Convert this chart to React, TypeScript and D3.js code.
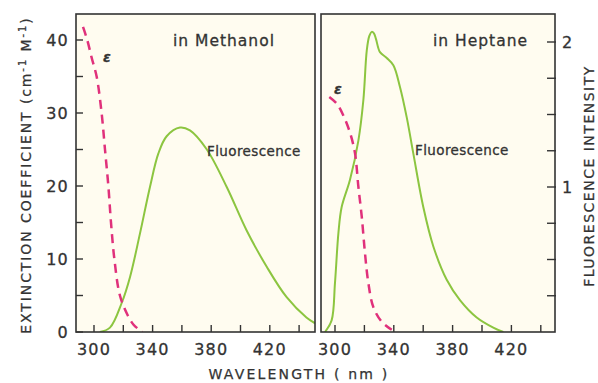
import React from "react";
import * as d3 from "d3";

// Methanol panel
const methEpsNm = [292.5, 295.4, 298.5, 301.8, 305.2, 307.5, 309.8, 311.6, 313.9, 317.7, 323, 327, 331, 333];
const methEpsVal = [41.8, 40, 37.5, 35, 30, 25, 20, 15, 10, 5, 2.3, 1.0, 0.3, 0];
const methFlNm = [304, 310.9, 318.9, 324.6, 331.4, 338.2, 343.9, 349.6, 358.7, 365.5, 376.9, 390.6, 404.2, 417.9, 431.5, 445, 450.9];
const methFlVal = [0, 0.03, 0.2, 0.38, 0.68, 1.0, 1.23, 1.35, 1.41, 1.39, 1.26, 1.0, 0.7, 0.45, 0.24, 0.1, 0.06];

// Heptane panel
const hepEpsNm = [296.1, 301.1, 305.6, 310.2, 313.6, 315.9, 318.2, 320.4, 322.7, 326.1, 331.8, 338.6];
const hepEpsVal = [32.2, 31.3, 29.7, 27.3, 24.5, 19.9, 15.8, 10.8, 6.7, 3.4, 1.4, 0.3];
const hepFlNm = [293.2, 297.7, 300, 302.3, 304.5, 310.2, 315.9, 319.3, 321.6, 323.3, 325, 326.5, 327.9, 330.6, 335.2, 339.7, 344.2, 348.8, 353.3, 360.1, 366.9, 376, 385, 396.4, 407.7, 414.5];
const hepFlVal = [0, 0.08, 0.34, 0.68, 0.86, 1.05, 1.32, 1.6, 1.94, 2.04, 2.07, 2.06, 2.02, 1.93, 1.89, 1.84, 1.69, 1.48, 1.23, 0.86, 0.59, 0.36, 0.22, 0.1, 0.03, 0];

const xTicks = [300, 320, 340, 360, 380, 400, 420, 440];
const xTickLabels = [300, 340, 380, 420];
const epsTicks = [0, 5, 10, 15, 20, 25, 30, 35, 40];
const epsTickLabels = [0, 10, 20, 30, 40];
const flTicks = [0.25, 0.5, 0.75, 1, 1.25, 1.5, 1.75, 2];
const flTickLabels = [1, 2];

const GREEN = "#8cc540";
const MAGENTA = "#e0317b";
const INK = "#333333";
const BG = "#fffcf0";
const FONT = "'DejaVu Sans', sans-serif";

export default function App() {
  const top = 14;
  const bottom = 332;
  const xL = d3.scaleLinear().domain([300, 440]).range([94, 299.1]);
  const xR = d3.scaleLinear().domain([300, 440]).range([335, 540.8]);
  const yEps = d3.scaleLinear().domain([0, 40]).range([332, 40]);
  const yFl = d3.scaleLinear().domain([0, 2]).range([332, 42]);
  const leftFrame = [76, 315];
  const rightFrame = [321, 555];

  const mk = (xs: d3.ScaleLinear<number, number>, ys: d3.ScaleLinear<number, number>, nm: number[], v: number[]) =>
    d3
      .line<number>()
      .x((_, i) => xs(nm[i]))
      .y((_, i) => ys(v[i]))
      .curve(d3.curveCatmullRom.alpha(0.5))(v.map((d) => d)) || "";

  const panel = (x0: number, x1: number, id: string) => (
    <g>
      <defs>
        <clipPath id={id}>
          <rect x={x0} y={top} width={x1 - x0} height={bottom - top} />
        </clipPath>
      </defs>
      <rect x={x0} y={top} width={x1 - x0} height={bottom - top} fill={BG} />
    </g>
  );

  return (
    <svg width={598} height={383} style={{ position: "absolute", left: 0, top: 0, background: "#fff" }} fontFamily={FONT}>
      {panel(leftFrame[0], leftFrame[1], "cl")}
      {panel(rightFrame[0], rightFrame[1], "cr")}

      {/* curves */}
      <g clipPath="url(#cl)" fill="none">
        <path d={mk(xL, yFl, methFlNm, methFlVal)} stroke={GREEN} strokeWidth={2} />
        <path d={mk(xL, yEps, methEpsNm, methEpsVal)} stroke={MAGENTA} strokeWidth={2.5} strokeDasharray="9,6" />
      </g>
      <g clipPath="url(#cr)" fill="none">
        <path d={mk(xR, yFl, hepFlNm, hepFlVal)} stroke={GREEN} strokeWidth={2} />
        <path d={mk(xR, yEps, hepEpsNm, hepEpsVal)} stroke={MAGENTA} strokeWidth={2.5} strokeDasharray="9,6" />
      </g>

      {/* frames */}
      <rect x={leftFrame[0]} y={top} width={leftFrame[1] - leftFrame[0]} height={bottom - top} fill="none" stroke={INK} strokeWidth={1.6} />
      <rect x={rightFrame[0]} y={top} width={rightFrame[1] - rightFrame[0]} height={bottom - top} fill="none" stroke={INK} strokeWidth={1.6} />

      {/* bottom ticks */}
      {xTicks.map((t) => (
        <g key={"xt" + t} stroke={INK} strokeWidth={1.4}>
          <line x1={xL(t)} x2={xL(t)} y1={bottom} y2={bottom - 7} />
          <line x1={xR(t)} x2={xR(t)} y1={bottom} y2={bottom - 7} />
        </g>
      ))}
      {xTickLabels.map((t) => (
        <g key={"xl" + t} fontSize={16} fill={INK} textAnchor="middle" letterSpacing={1.2} stroke={INK} strokeWidth={0.3}>
          <text x={xL(t)} y={355}>{t}</text>
          <text x={xR(t)} y={355}>{t}</text>
        </g>
      ))}

      {/* left axis */}
      {epsTicks.map((t) => (
        <line key={"et" + t} x1={leftFrame[0]} x2={leftFrame[0] + 7} y1={yEps(t)} y2={yEps(t)} stroke={INK} strokeWidth={1.4} />
      ))}
      {epsTickLabels.map((t) => (
        <text key={"el" + t} x={69} y={yEps(t) + 6} fontSize={16} fill={INK} textAnchor="end" letterSpacing={1.2} stroke={INK} strokeWidth={0.3}>
          {t}
        </text>
      ))}

      {/* right axis */}
      {flTicks.map((t) => (
        <line key={"ft" + t} x1={rightFrame[1] - 8} x2={rightFrame[1] + 1} y1={yFl(t)} y2={yFl(t)} stroke={INK} strokeWidth={1.4} />
      ))}
      {flTickLabels.map((t) => (
        <text key={"fl" + t} x={562} y={yFl(t) + 6} fontSize={16} fill={INK} textAnchor="start" stroke={INK} strokeWidth={0.3}>
          {t}
        </text>
      ))}

      {/* annotations */}
      <g fill={INK} stroke={INK} strokeWidth={0.3}>
        <text x={173} y={46} fontSize={15.5} letterSpacing={1}>in Methanol</text>
        <text x={433} y={46} fontSize={15.5} letterSpacing={1}>in Heptane</text>
        <text x={207} y={156} fontSize={13.5} letterSpacing={0.4}>Fluorescence</text>
        <text x={415} y={155} fontSize={13.5} letterSpacing={0.4}>Fluorescence</text>
        <text x={103} y={62} fontSize={14} fontStyle="italic" fontWeight="bold">ε</text>
        <text x={334} y={94} fontSize={14} fontStyle="italic" fontWeight="bold">ε</text>
      </g>

      {/* axis titles */}
      <g fill={INK} stroke={INK} strokeWidth={0.25}>
        <text x={299} y={379} fontSize={14} textAnchor="middle" letterSpacing={2.2}>
          WAVELENGTH ( nm )
        </text>
        <text transform="translate(31,175) rotate(-90)" fontSize={14} textAnchor="middle" letterSpacing={1.9}>
          EXTINCTION COEFFICIENT (cm
          <tspan dy={-5} fontSize={10}>-1</tspan>
          <tspan dy={5}> M</tspan>
          <tspan dy={-5} fontSize={10}>-1</tspan>
          <tspan dy={5}>)</tspan>
        </text>
        <text transform="translate(594,176) rotate(-90)" fontSize={14} textAnchor="middle" letterSpacing={1.5}>
          FLUORESCENCE  INTENSITY
        </text>
      </g>
    </svg>
  );
}
